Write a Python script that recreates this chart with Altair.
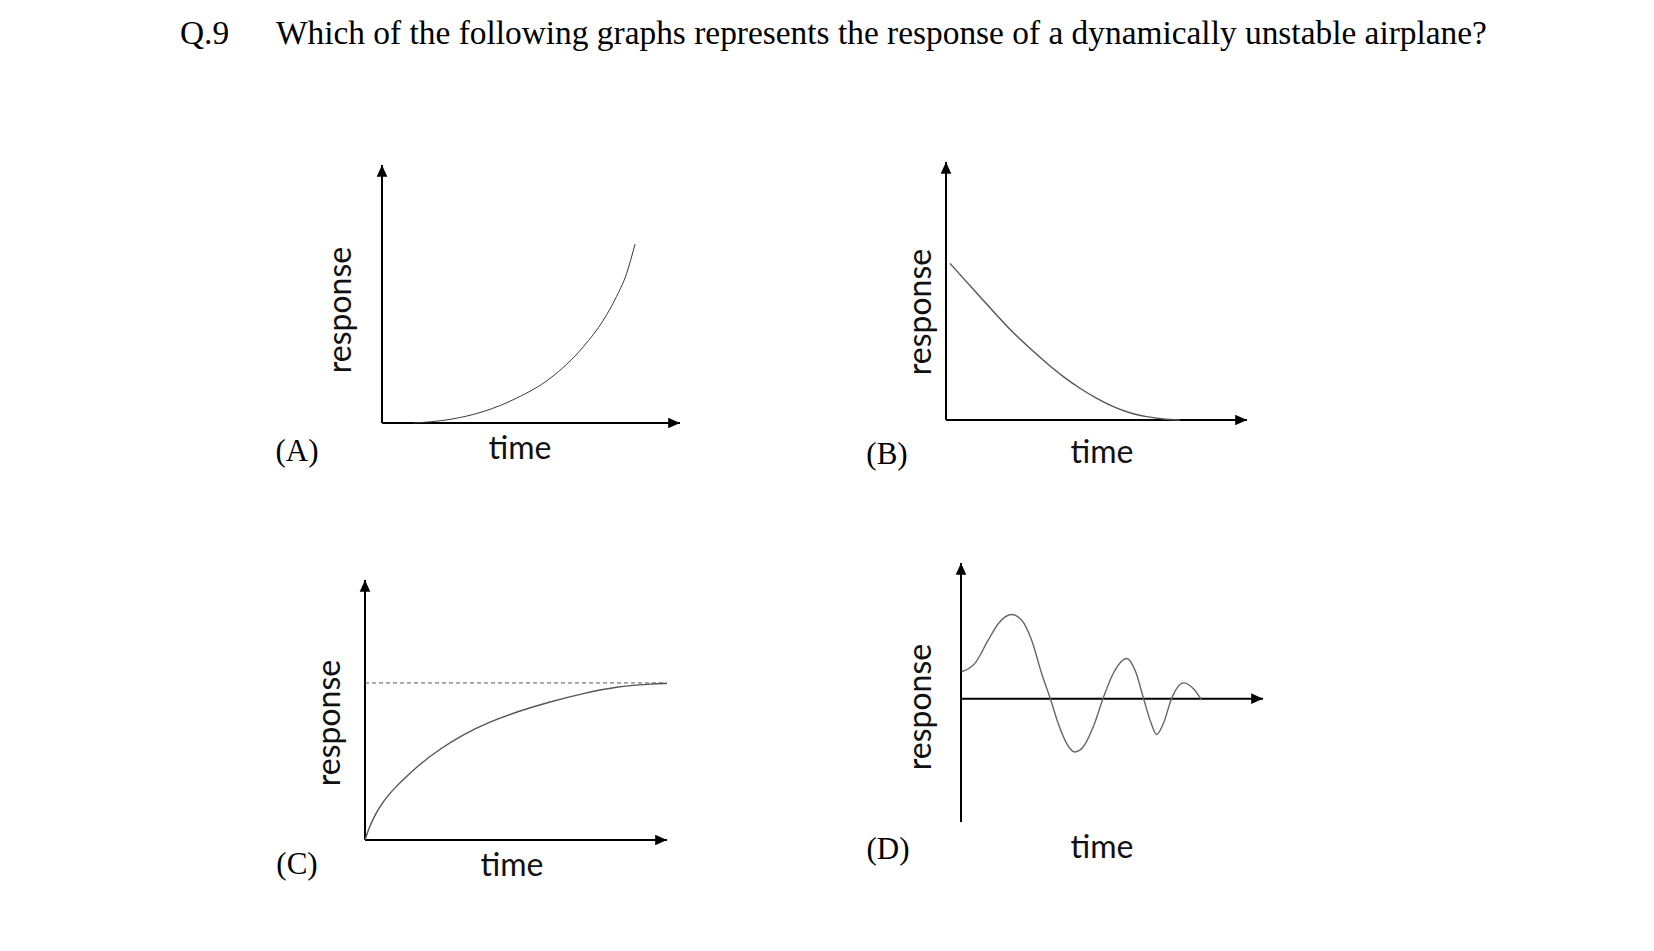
import altair as alt
import pandas as pd

# ---------------- data ----------------
question_no = "Q.9"
question = "Which of the following graphs represents the response of a dynamically unstable airplane?"
panel_letters = ["(A)", "(B)", "(C)", "(D)"]
x_label = "time"
y_label = "response"

# (A) divergent response
a_time = [1.05, 2.28, 3.39, 4.51, 5.64, 6.76, 7.43, 7.87, 8.21, 8.49]
a_resp = [0.00, 0.14, 0.44, 0.96, 1.73, 2.96, 3.99, 4.90, 5.80, 6.93]

# (B) decaying response
b_time = [0.13, 0.58, 1.13, 1.68, 2.24, 2.79, 3.35, 3.90, 4.45, 5.01, 5.56, 6.11, 6.67, 7.22, 7.77]
b_resp = [6.07, 5.49, 4.78, 4.07, 3.38, 2.78, 2.20, 1.68, 1.23, 0.84, 0.52, 0.28, 0.13, 0.04, 0.00]

# (C) first-order rise to a steady value
c_time = [0.00, 0.12, 0.28, 0.50, 0.75, 1.05, 1.40, 1.82, 2.48, 3.26, 4.14, 5.02, 6.13, 7.23, 8.33, 9.44, 9.99]
c_resp = [0.00, 0.42, 0.85, 1.30, 1.70, 2.08, 2.47, 2.92, 3.50, 4.07, 4.55, 4.93, 5.32, 5.64, 5.90, 6.00, 6.02]
c_steady = 6.04

# (D) damped oscillation
d_time = [0.02, 0.46, 0.90, 1.24, 1.68, 2.01, 2.34, 2.67, 2.95, 3.22, 3.50, 3.77, 4.05,
          4.38, 4.71, 5.04, 5.49, 5.76, 6.04, 6.26, 6.48, 6.70, 6.98, 7.36, 7.69, 7.97]
d_resp = [1.09, 1.43, 2.37, 3.05, 3.41, 3.18, 2.37, 1.02, 0.03, -1.01, -1.82, -2.16, -1.95,
          -1.14, 0.03, 1.02, 1.63, 1.16, 0.03, -0.87, -1.45, -1.01, 0.03, 0.64, 0.41, -0.06]

# ---------------- layout (page pixels) ----------------
OFF = 8  # page margin
W, H = 1638, 935

panels = {
    "A": dict(x0=382, x1=680, y0=423, y1=165, tdom=[0, 10], rdom=[0, 10], axis_r=0, ybot=0),
    "B": dict(x0=946, x1=1247, y0=420, y1=162, tdom=[0, 10], rdom=[0, 10], axis_r=0, ybot=0),
    "C": dict(x0=365, x1=667, y0=840, y1=580, tdom=[0, 10], rdom=[0, 10], axis_r=0, ybot=0),
    "D": dict(x0=961, x1=1263, y0=822, y1=563, tdom=[0, 10], rdom=[-5, 5.5], axis_r=0, ybot=-5),
}

UP = "M0,0L0.45,1L-0.45,1Z"
RIGHT = "M0,0L-1,-0.45L-1,0.45Z"
ARROW_SIZE = 560

SERIF = "Liberation Serif"
SANS = "Lato"


def xs(p, field="t"):
    return alt.X(f"{field}:Q", axis=None,
                 scale=alt.Scale(domain=p["tdom"], range=[p["x0"] - OFF, p["x1"] - OFF],
                                 nice=False, zero=False))


def ys(p, field="r"):
    return alt.Y(f"{field}:Q", axis=None,
                 scale=alt.Scale(domain=p["rdom"], range=[p["y0"] - OFF, p["y1"] - OFF],
                                 nice=False, zero=False))


def panel_layers(p, time, resp, color, width, interp="monotone"):
    tmin, tmax = p["tdom"]
    rmin, rmax = p["rdom"]
    axes = pd.DataFrame({
        "t": [tmin, tmin], "t2": [tmax, tmin],
        "r": [p["axis_r"], p["ybot"]], "r2": [p["axis_r"], rmax],
    })
    rules = alt.Chart(axes).mark_rule(color="black", strokeWidth=2).encode(
        x=xs(p), x2="t2:Q", y=ys(p), y2="r2:Q")
    up = alt.Chart(pd.DataFrame({"t": [tmin], "r": [rmax]})).mark_point(
        shape=UP, filled=True, size=ARROW_SIZE, color="black", opacity=1, strokeWidth=0
    ).encode(x=xs(p), y=ys(p))
    right = alt.Chart(pd.DataFrame({"t": [tmax], "r": [p["axis_r"]]})).mark_point(
        shape=RIGHT, filled=True, size=ARROW_SIZE, color="black", opacity=1, strokeWidth=0
    ).encode(x=xs(p), y=ys(p))
    curve = alt.Chart(pd.DataFrame({"t": time, "r": resp})).mark_line(
        interpolate=interp, color=color, strokeWidth=width
    ).encode(x=xs(p), y=ys(p))
    return [rules, up, right, curve]


def label(text, x, y, font, size, angle=0, align="center", baseline="middle", color="black"):
    return alt.Chart(pd.DataFrame({"k": [0]})).mark_text(
        text=text, font=font, fontSize=size, angle=angle, align=align,
        baseline=baseline, color=color
    ).encode(x=alt.value(x - OFF), y=alt.value(y - OFF))


layers = []
layers += panel_layers(panels["A"], a_time, a_resp, "#3a3a3a", 1.0)
layers += panel_layers(panels["B"], b_time, b_resp, "#555555", 1.4)
layers += panel_layers(panels["C"], c_time, c_resp, "#555555", 1.4, interp="basis")
layers += panel_layers(panels["D"], d_time, d_resp, "#666666", 1.4)

pc = panels["C"]
steady = alt.Chart(pd.DataFrame({"t": [pc["tdom"][0]], "t2": [pc["tdom"][1]], "r": [c_steady]})).mark_rule(
    color="#555555", strokeWidth=1, strokeDash=[4, 3]
).encode(x=xs(pc), x2="t2:Q", y=ys(pc))
layers.append(steady)

# texts
layers.append(label(question_no, 180, 44, SERIF, 33.4, align="left", baseline="alphabetic"))
layers.append(label(question, 276, 44, SERIF, 33.4, align="left", baseline="alphabetic"))

letter_pos = [(297, 452), (887, 455), (297, 865), (888, 850)]
for txt, (lx, ly) in zip(panel_letters, letter_pos):
    layers.append(label(txt, lx, ly, SERIF, 31))

time_pos = [(520, 449), (1102, 453), (512, 866), (1102, 848)]
for (lx, ly) in time_pos:
    layers.append(label(x_label, lx, ly, SANS, 32, color="#111111"))

resp_pos = [(341, 310), (921, 312), (330, 723), (921, 707)]
for (lx, ly) in resp_pos:
    layers.append(label(y_label, lx, ly, SANS, 32, angle=270, color="#111111"))

chart = alt.layer(*layers).resolve_scale(x="independent", y="independent").properties(
    width=W, height=H, autosize=alt.AutoSizeParams(type="none"), padding=0,
    background="white"
).configure_view(stroke=None)

chart.save("out.html", embed_options={"renderer": "svg", "actions": False})
